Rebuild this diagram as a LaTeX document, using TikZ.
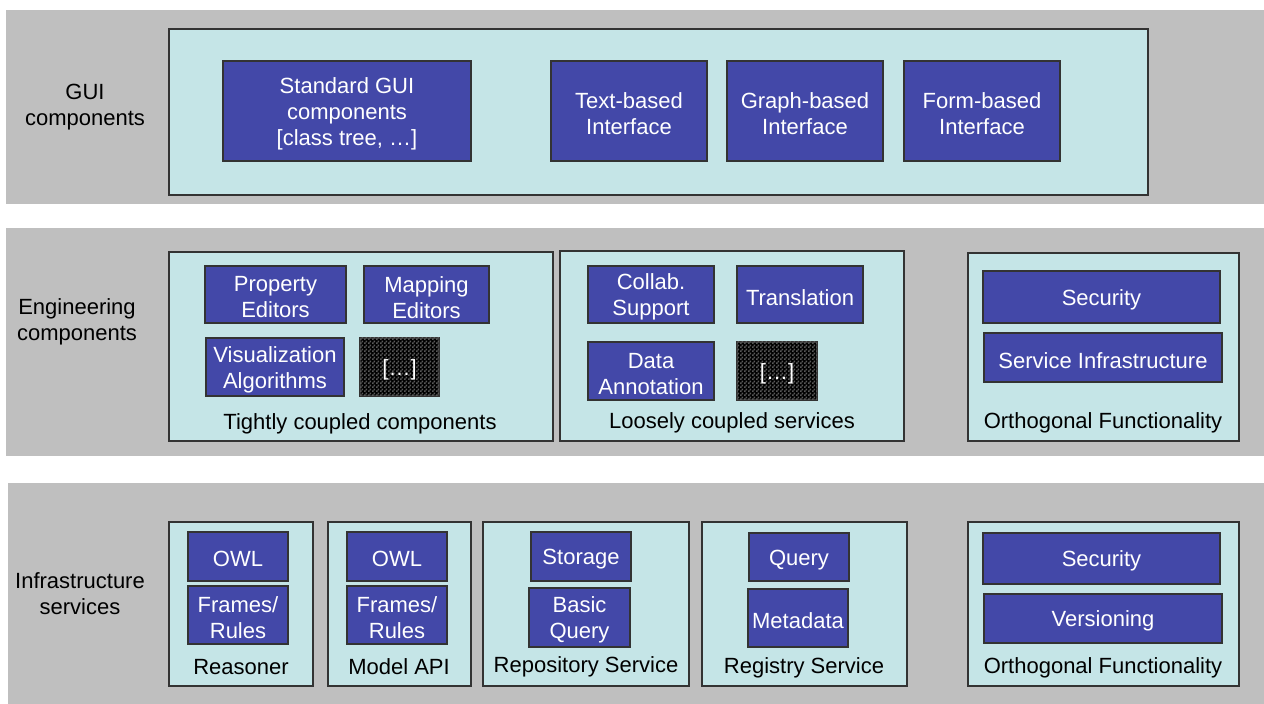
\documentclass[tikz,border=0pt]{standalone}
\usepackage{fontspec}
\setmainfont{Liberation Sans}
\usetikzlibrary{patterns}
\definecolor{bandgray}{HTML}{BFBFBF}
\definecolor{cont}{HTML}{C5E5E7}
\definecolor{bluebox}{HTML}{4348A8}
\definecolor{edge}{HTML}{333333}
\pgfdeclarepatternformonly{finecheck}{\pgfqpoint{0pt}{0pt}}{\pgfqpoint{2pt}{2pt}}{\pgfqpoint{2pt}{2pt}}{%
  \pgfpathrectangle{\pgfqpoint{0pt}{0pt}}{\pgfqpoint{1pt}{1pt}}%
  \pgfpathrectangle{\pgfqpoint{1pt}{1pt}}{\pgfqpoint{1pt}{1pt}}%
  \pgfusepath{fill}}
\newcommand\bx[7]{\node[#6, minimum width={(#4-#2)*0.5pt}, minimum height={(#5-#3)*0.5pt}] (#1) at ({(#2+#4)/2},{(#3+#5)/2}) {};
  \node[boxtext] (#1-t) at ([yshift=-1.4pt]#1.center) {#7};}
\tikzset{
  band/.style={fill=bandgray, draw=none, inner sep=0pt, outer sep=0pt},
  container/.style={fill=cont, draw=edge, line width=0.7pt, inner sep=0pt, outer sep=0pt},
  bluebx/.style={fill=bluebox, draw=edge, line width=0.6pt, inner sep=0pt, outer sep=0pt},
  darkbx/.style={fill=black, draw=edge, line width=0.6pt, inner sep=0pt, outer sep=0pt, postaction={pattern=finecheck, pattern color=black!65}},
  boxtext/.style={text=white, align=center, font=\fontsize{11}{13}\selectfont, inner sep=0pt},
  lbl/.style={text=black, align=center, font=\fontsize{11}{13}\selectfont, inner sep=0pt},
}
\begin{document}
\begin{tikzpicture}[x=0.5pt,y=-0.5pt]
\useasboundingbox (0,0) rectangle (1264,704);
\fill[white] (0,0) rectangle (1264,704);
% bands
\bx{b1}{6}{10}{1264}{204}{band}{}
\bx{b2}{6}{228}{1264}{456}{band}{}
\bx{b3}{8}{483}{1264}{704}{band}{}
\node[lbl] (l1) at (85,107) {GUI\\components};
\node[lbl] (l2) at (77,322) {Engineering\\components};
\node[lbl] (l3) at (80,594) {Infrastructure\\services};
% GUI
\bx{gui}{169}{29}{1148}{195}{container}{}
\bx{stdgui}{223}{61}{471}{161}{bluebx}{Standard GUI\\components\\{}[class tree, …]}
\bx{textb}{551}{61}{707}{161}{bluebx}{Text-based\\Interface}
\bx{graphb}{727}{61}{883}{161}{bluebx}{Graph-based\\Interface}
\bx{formb}{904}{61}{1060}{161}{bluebx}{Form-based\\Interface}
% Engineering
\bx{tight}{169}{252}{553}{441}{container}{}
\bx{prop}{205}{266}{346}{323}{bluebx}{Property\\Editors}
\bx{mapp}{364}{266}{489}{323}{bluebx}{Mapping\\Editors}
\bx{vis}{206}{338}{344}{396}{bluebx}{Visualization\\Algorithms}
\bx{dotsa}{360}{338}{439}{396}{darkbx}{[…]}
\node[lbl] (tightl) at (360,424) {Tightly coupled components};
\bx{loose}{560}{251}{904}{441}{container}{}
\bx{collab}{588}{266}{714}{323}{bluebx}{Collab.\\Support}
\bx{trans}{737}{266}{863}{323}{bluebx}{Translation}
\bx{data}{588}{342}{714}{400}{bluebx}{Data\\Annotation}
\bx{dotsb}{737}{342}{817}{400}{darkbx}{[…]}
\node[lbl] (loosel) at (732,423) {Loosely coupled services};
\bx{orthoa}{968}{253}{1239}{441}{container}{}
\bx{seca}{983}{271}{1220}{323}{bluebx}{Security}
\bx{servinf}{984}{333}{1222}{382}{bluebx}{Service Infrastructure}
\node[lbl] (orthoal) at (1103,423) {Orthogonal Functionality};
% Infrastructure
\bx{reas}{169}{522}{313}{686}{container}{}
\bx{owla}{188}{532}{288}{581}{bluebx}{OWL}
\bx{fra}{188}{586}{288}{644}{bluebx}{Frames/\\Rules}
\node[lbl] (reasl) at (241,667) {Reasoner};
\bx{mapi}{328}{522}{471}{686}{container}{}
\bx{owlb}{347}{532}{447}{581}{bluebx}{OWL}
\bx{frb}{347}{586}{447}{644}{bluebx}{Frames/\\Rules}
\node[lbl] (mapil) at (399,667) {Model API};
\bx{repo}{483}{522}{689}{686}{container}{}
\bx{stor}{531}{532}{631}{581}{bluebx}{Storage}
\bx{basic}{529}{588}{630}{647}{bluebx}{Basic\\Query}
\node[lbl] (repol) at (586,667) {Repository Service};
\bx{regi}{702}{522}{907}{686}{container}{}
\bx{query}{749}{533}{849}{581}{bluebx}{Query}
\bx{meta}{748}{589}{848}{647}{bluebx}{Metadata}
\node[lbl] (regil) at (804,668) {Registry Service};
\bx{orthob}{968}{522}{1239}{686}{container}{}
\bx{secb}{983}{533}{1220}{584}{bluebx}{Security}
\bx{vers}{984}{594}{1222}{643}{bluebx}{Versioning}
\node[lbl] (orthobl) at (1103,668) {Orthogonal Functionality};
\end{tikzpicture}
\end{document}
